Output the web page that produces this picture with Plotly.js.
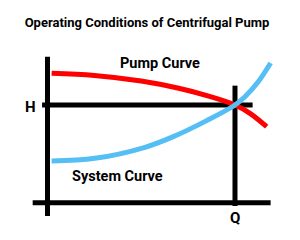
<!DOCTYPE html>
<html>
<head>
<meta charset="utf-8">
<script src="https://cdn.plot.ly/plotly-3.0.1.min.js"></script>
<style>html,body{margin:0;padding:0;background:#fff;}#chart{width:300px;height:240px;}</style>
</head>
<body>
<div id="chart"></div>
<script>
// Flow (Q) and head (H) in arbitrary units; operating point at Q=10, H=10
const pumpQ = [0.22, 2.5, 5.0, 7.0, 8.5, 10, 10.8, 11.69];
const pumpH = [13.24, 13.02, 12.45, 11.71, 10.96, 10, 9.15, 7.78];
const systemQ = [0.22, 2.53, 5.2, 6.71, 8.49, 10, 10.53, 11.24, 11.9];
const systemH = [4.27, 4.54, 5.67, 6.76, 8.4, 10, 10.85, 12.38, 14.3];
const operatingQ = 10;
const operatingH = 10;
// reference lines
const baseLineQ = [-0.79, 11.9];
const baseLineH = [0, 0];
const vertLineQ = [0, 0];
const vertLineH = [-1.36, 14.94];
const hLineQ = [-0.29, 10.94];
const qLineH = [-0.34, 11.98];

const FONT = 'Liberation Sans Narrow, Roboto, sans-serif';
const black = '#000000';

const traces = [
  {x: baseLineQ, y: baseLineH, mode: 'lines', line: {color: black, width: 5}, hoverinfo: 'skip'},
  {x: vertLineQ, y: vertLineH, mode: 'lines', line: {color: black, width: 5}, hoverinfo: 'skip'},
  {x: hLineQ, y: [operatingH, operatingH], mode: 'lines', line: {color: black, width: 5}, hoverinfo: 'skip'},
  {x: [operatingQ, operatingQ], y: qLineH, mode: 'lines', line: {color: black, width: 5}, hoverinfo: 'skip'},
  {x: pumpQ, y: pumpH, mode: 'lines', line: {color: '#ff0000', width: 5, shape: 'spline', smoothing: 1}, name: 'Pump Curve'},
  {x: systemQ, y: systemH, mode: 'lines', line: {color: '#55bff5', width: 5, shape: 'spline', smoothing: 1}, name: 'System Curve'}
];

const layout = {
  width: 300, height: 240,
  margin: {l: 0, r: 0, t: 0, b: 0},
  paper_bgcolor: '#ffffff', plot_bgcolor: '#ffffff',
  showlegend: false,
  title: {text: 'Operating Conditions of Centrifugal Pump', x: 0.49, xanchor: 'center', y: 0.908, yanchor: 'middle',
          font: {family: FONT, size: 13, color: black, weight: 'bold'}},
  xaxis: {range: [-2.533, 13.467], visible: false, fixedrange: true},
  yaxis: {range: [-3.818, 20.747], visible: false, fixedrange: true},
  annotations: [
    {x: -0.93, y: 9.8, text: 'H', showarrow: false, font: {family: FONT, size: 15, color: black, weight: 'bold'}},
    {x: operatingQ, y: -1.6, text: 'Q', showarrow: false, font: {family: FONT, size: 15, color: black, weight: 'bold'}},
    {x: 6.0, y: 14.2, text: 'Pump Curve', showarrow: false, font: {family: FONT, size: 14.5, color: black, weight: 'bold'}},
    {x: 3.73, y: 2.73, text: 'System Curve', showarrow: false, font: {family: FONT, size: 14.5, color: black, weight: 'bold'}}
  ]
};

Plotly.newPlot('chart', traces, layout, {displayModeBar: false, staticPlot: true});
</script>
</body>
</html>
